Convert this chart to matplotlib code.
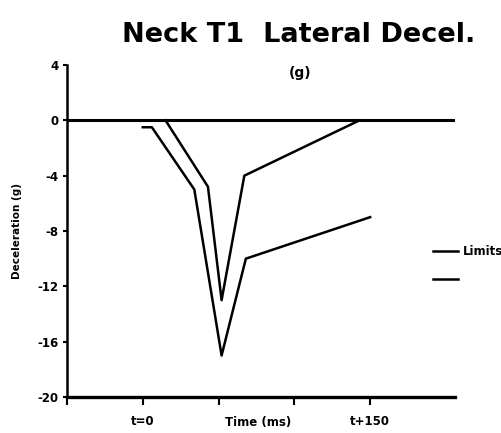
import matplotlib
matplotlib.use("Agg")
import matplotlib.pyplot as plt
from matplotlib.lines import Line2D

# Time in ms relative to impact, deceleration in g
outer_t = [0, 6, 34, 52, 68, 150]
outer_g = [-0.5, -0.5, -5.0, -17.0, -10.0, -7.0]

inner_t = [15, 43, 52, 67, 143]
inner_g = [0.0, -4.8, -13.0, -4.0, 0.0]

zero_t = [-50, 206]
zero_g = [0, 0]

x_ticks = [-50, 0, 50, 100, 150]
x_tick_labels = ["", "t=0", "", "", "t+150"]
y_ticks = [4, 0, -4, -8, -12, -16, -20]
y_tick_labels = ["4", "0", "-4", "-8", "-12", "-16", "-20"]

plt.rcParams["font.family"] = ["DejaVu Sans"]

fig = plt.figure(figsize=(5.02, 4.33), dpi=100)
ax = fig.add_axes([67 / 502, 1 - 397 / 433, (455 - 67) / 502, (397 - 65) / 433])

ax.plot(zero_t, zero_g, color="black", lw=2.2, solid_capstyle="butt")
ax.plot(outer_t, outer_g, color="black", lw=1.8)
ax.plot(inner_t, inner_g, color="black", lw=1.8)

ax.set_xlim(-50, 206)
ax.set_ylim(-20, 4)
ax.set_xticks(x_ticks)
ax.set_xticklabels(x_tick_labels, fontsize=8.5, fontweight="bold")
ax.set_yticks(y_ticks)
ax.set_yticklabels(y_tick_labels, fontsize=8.5, fontweight="bold")

for side in ("top", "right"):
    ax.spines[side].set_visible(False)
ax.spines["left"].set_linewidth(1.8)
ax.spines["bottom"].set_linewidth(2.4)
ax.tick_params(axis="x", direction="out", length=6, width=1.5, pad=7)
ax.tick_params(axis="y", direction="out", length=3, width=1.5, pad=3)

ax.set_ylabel("Deceleration (g)", fontsize=7.5, fontweight="bold", labelpad=11)
ax.text(76, -21.4, "Time (ms)", transform=ax.transData, ha="center", va="top",
        fontsize=8.5, fontweight="bold")

fig.text(0.595, 0.92, "Neck T1  Lateral Decel.", ha="center", va="center",
         fontsize=19.5, fontweight="bold")
fig.text(0.598, 0.832, "(g)", ha="center", va="center", fontsize=10,
         fontweight="bold")

# legend entries at the right edge
for yy in (251, 279):
    fig.add_artist(Line2D([433 / 502, 458 / 502], [1 - yy / 433, 1 - yy / 433],
                          color="black", lw=1.8))
fig.text(463 / 502, 1 - 251 / 433, "Limits", ha="left", va="center",
         fontsize=8.5, fontweight="bold")

fig.savefig("out.png", dpi=100)
